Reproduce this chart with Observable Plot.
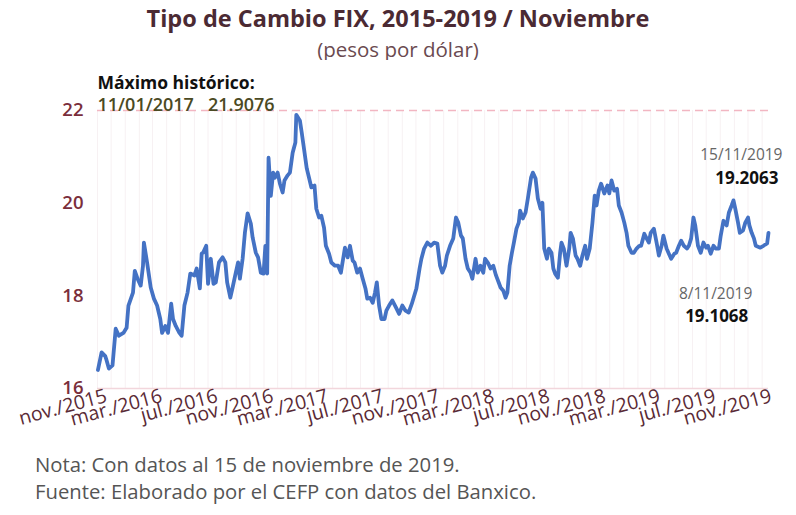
<!DOCTYPE html>
<html>
<head>
<meta charset="utf-8">
<script src="https://cdn.jsdelivr.net/npm/d3@7"></script>
<script src="https://cdn.jsdelivr.net/npm/@observablehq/plot@0.6"></script>
<style>
  body { margin:0; width:796px; height:515px; background:#fff; font-family:"Open Sans", sans-serif; position:relative; overflow:hidden; }
  #title { position:absolute; left:0; width:796px; top:5px; text-align:center; font-size:23.5px; font-weight:700; color:#4b2a33; line-height:27px; }
  #subtitle { position:absolute; left:0; width:796px; top:37px; text-align:center; font-size:20.5px; color:#6a4a50; line-height:24px; }
  #chart { position:absolute; left:0; top:60px; }
  #notes { position:absolute; left:35px; top:451px; font-size:20.3px; color:#555; line-height:27px; }
</style>
</head>
<body>
<div id="title">Tipo de Cambio FIX, 2015-2019 / Noviembre</div>
<div id="subtitle">(pesos por dólar)</div>
<div id="chart"></div>
<div id="notes">Nota: Con datos al 15 de noviembre de 2019.<br>Fuente: Elaborado por el CEFP con datos del Banxico.</div>
<script>
const dates = [
"2015-11-02","2015-11-10","2015-11-18","2015-11-20","2015-11-26","2015-12-04","2015-12-11","2015-12-18","2015-12-28",
"2016-01-04","2016-01-08","2016-01-18","2016-01-22","2016-01-28","2016-02-04","2016-02-09","2016-02-11","2016-02-18","2016-02-26",
"2016-03-04","2016-03-11","2016-03-18","2016-03-22","2016-03-29","2016-04-04","2016-04-11","2016-04-15","2016-04-21","2016-04-29",
"2016-05-04","2016-05-10","2016-05-17","2016-05-23","2016-06-01","2016-06-06","2016-06-13","2016-06-17","2016-06-20","2016-06-27",
"2016-07-01","2016-07-07","2016-07-13","2016-07-18","2016-07-25","2016-08-02","2016-08-08","2016-08-12","2016-08-19","2016-08-24",
"2016-08-31","2016-09-05","2016-09-09","2016-09-15","2016-09-20","2016-09-26","2016-10-03","2016-10-07","2016-10-14","2016-10-19",
"2016-10-25","2016-10-31","2016-11-04","2016-11-08","2016-11-11","2016-11-16","2016-11-21","2016-11-25","2016-12-01","2016-12-06",
"2016-12-12","2016-12-16","2016-12-23","2016-12-28","2017-01-03","2017-01-09","2017-01-11","2017-01-19","2017-01-23","2017-01-27",
"2017-02-03","2017-02-08","2017-02-13","2017-02-20","2017-02-24","2017-03-02","2017-03-07","2017-03-13","2017-03-17","2017-03-24",
"2017-03-29","2017-04-06","2017-04-13","2017-04-19","2017-04-24","2017-04-28","2017-05-04","2017-05-09","2017-05-15","2017-05-19",
"2017-05-25","2017-05-31","2017-06-06","2017-06-12","2017-06-16","2017-06-22","2017-06-28","2017-07-03","2017-07-07","2017-07-12",
"2017-07-17","2017-07-24","2017-07-28","2017-08-03","2017-08-10","2017-08-18","2017-08-25","2017-09-01","2017-09-08","2017-09-15",
"2017-09-22","2017-10-02","2017-10-09","2017-10-13","2017-10-19","2017-10-26","2017-11-03","2017-11-10","2017-11-17","2017-11-23",
"2017-11-28","2017-12-04","2017-12-08","2017-12-15","2017-12-22","2017-12-28","2018-01-02","2018-01-08","2018-01-12","2018-01-18",
"2018-01-23","2018-01-29","2018-02-02","2018-02-09","2018-02-14","2018-02-20","2018-02-26","2018-03-02","2018-03-09","2018-03-14",
"2018-03-20","2018-03-26","2018-04-02","2018-04-05","2018-04-11","2018-04-16","2018-04-20","2018-04-25","2018-04-30","2018-05-04",
"2018-05-10","2018-05-15","2018-05-18","2018-05-24","2018-05-30","2018-06-04","2018-06-11","2018-06-15","2018-06-21","2018-06-26",
"2018-07-02","2018-07-06","2018-07-10","2018-07-16","2018-07-20","2018-07-26","2018-07-30","2018-08-03","2018-08-09","2018-08-14",
"2018-08-17","2018-08-22","2018-08-28","2018-09-03","2018-09-06","2018-09-11","2018-09-17","2018-09-21","2018-09-27","2018-10-02",
"2018-10-08","2018-10-12","2018-10-18","2018-10-24","2018-10-29","2018-11-02","2018-11-07","2018-11-12","2018-11-19","2018-11-26",
"2018-11-30","2018-12-05","2018-12-11","2018-12-17","2018-12-21","2018-12-27","2019-01-02","2019-01-07","2019-01-11","2019-01-18",
"2019-01-23","2019-01-29","2019-02-04","2019-02-08","2019-02-15","2019-02-20","2019-02-25","2019-03-01","2019-03-08","2019-03-14",
"2019-03-19","2019-03-25","2019-03-29","2019-04-05","2019-04-10","2019-04-15","2019-04-22","2019-04-26","2019-05-02","2019-05-07",
"2019-05-13","2019-05-20","2019-05-24","2019-05-29","2019-06-03","2019-06-07","2019-06-13","2019-06-19","2019-06-25","2019-07-01",
"2019-07-05","2019-07-11","2019-07-17","2019-07-22","2019-07-29","2019-08-02","2019-08-08","2019-08-15","2019-08-20","2019-08-26",
"2019-08-30","2019-09-03","2019-09-09","2019-09-13","2019-09-20","2019-09-25","2019-10-01","2019-10-04","2019-10-09","2019-10-14",
"2019-10-18","2019-10-28","2019-11-04","2019-11-08","2019-11-12","2019-11-15"
];
const values = [
16.40,16.78,16.70,16.64,16.43,16.50,17.29,17.14,17.20,
17.31,17.79,18.07,18.54,18.37,18.22,18.65,19.15,18.72,18.18,
17.94,17.79,17.50,17.20,17.35,17.20,17.83,17.50,17.35,17.20,
17.14,17.79,18.07,18.48,18.44,18.59,18.16,18.91,18.93,19.08,
18.26,18.80,18.26,18.29,18.72,18.83,18.72,18.29,17.96,18.18,
18.50,18.72,18.37,18.80,19.36,19.78,19.56,19.26,18.93,18.83,
18.50,18.48,19.08,18.48,20.98,20.16,20.66,20.55,20.66,20.42,
20.23,20.49,20.60,20.66,21.09,21.31,21.9076,21.78,21.52,21.24,
20.75,20.55,20.34,20.38,19.88,19.69,19.73,19.47,19.08,18.91,
18.72,18.65,18.65,18.50,18.80,19.04,18.83,19.08,18.76,18.72,
18.50,18.59,18.37,18.16,17.94,17.96,17.85,18.07,18.29,17.79,
17.50,17.50,17.68,17.79,17.90,17.75,17.61,17.79,17.68,17.64,
17.83,18.16,18.59,18.80,19.02,19.15,19.08,19.15,19.13,18.65,
18.50,18.65,18.87,19.08,19.24,19.69,19.58,19.30,19.24,18.80,
18.59,18.50,18.37,18.80,18.50,18.65,18.50,18.80,18.70,18.59,
18.65,18.44,18.26,18.18,18.11,17.96,18.07,18.65,18.93,19.13,
19.45,19.58,19.84,19.67,19.80,20.10,20.55,20.66,20.53,20.10,
19.88,20.01,19.02,18.80,19.02,18.93,18.59,18.48,18.39,18.93,
19.15,19.02,18.65,19.02,19.36,19.24,18.87,18.80,18.65,18.87,
19.08,18.80,19.02,19.58,20.16,19.95,20.27,20.42,20.21,20.38,
20.21,20.49,20.27,20.31,19.95,19.80,19.58,19.36,19.08,18.93,
18.93,19.02,19.08,19.08,19.34,19.24,19.15,19.36,19.45,19.15,
18.87,19.08,19.30,19.02,18.91,18.80,18.91,18.93,19.08,19.19,
19.08,19.02,19.08,19.24,19.69,19.52,19.08,18.93,19.15,19.04,
19.08,18.91,19.08,19.02,19.02,19.30,19.62,19.52,19.80,19.95,
20.06,19.88,19.58,19.36,19.41,19.58,19.69,19.52,19.36,19.24,
19.08,19.04,19.08,19.1068,19.13,19.36
];
const yTicks = [16, 18, 20, 22];
const tickDates = ["2015-11-01","2016-03-01","2016-07-01","2016-11-01","2017-03-01","2017-07-01","2017-11-01","2018-03-01","2018-07-01","2018-11-01","2019-03-01","2019-07-01","2019-11-01"];
const tickLabels = ["nov./2015","mar./2016","jul./2016","nov./2016","mar./2017","jul./2017","nov./2017","mar./2018","jul./2018","nov./2018","mar./2019","jul./2019","nov./2019"];
const maxDate = "2017-01-11", maxValue = 21.9076;
const lastDate = "2019-11-15", lastValue = 19.2063;
const prevDate = "2019-11-08", prevValue = 19.1068;

const data = dates.map((d, i) => ({date: new Date(d), value: values[i]}));
const ticks = tickDates.map(d => new Date(d));
const labelOf = new Map(ticks.map((t, i) => [+t, tickLabels[i]]));
const x0 = new Date("2015-11-01"), x1 = new Date(lastDate);
const gridMonths = d3.utcMonth.range(x0, x1);

const chart = Plot.plot({
  width: 796,
  height: 385,
  marginLeft: 97,
  marginRight: 28,
  marginTop: 50,
  marginBottom: 57,
  style: {fontFamily: "'Open Sans', sans-serif", background: "#fff"},
  x: {type: "utc", domain: [x0, x1]},
  y: {domain: [16, 22]},
  marks: [
    Plot.ruleX(gridMonths, {y1: 16, y2: 22, stroke: "#f7f1f3", strokeWidth: 1}),
    Plot.ruleY([16], {stroke: "#f2d6dc", strokeWidth: 1.5}),
    Plot.ruleY([22], {stroke: "#f2b6c2", strokeWidth: 1.5, strokeDasharray: "8,5"}),
    Plot.axisY({ticks: yTicks, tickFormat: "d", tickSize: 0, tickPadding: 14, fontSize: 18.5, fontWeight: 600, fill: "#7a2e3b", label: null}),
    Plot.axisX({ticks, tickSize: 0, tickPadding: 7, tickRotate: -15, fontSize: 19.5, fill: "#5a2a35", label: null, dx: 9, tickFormat: d => labelOf.get(+d)}),
    Plot.line(data, {x: "date", y: "value", stroke: "#4472c4", strokeWidth: 3.8, strokeLinejoin: "round"}),
    Plot.text(["Máximo histórico:"], {frameAnchor: "top-left", dy: -34, textAnchor: "start", fontSize: 17.5, fontWeight: 700, fill: "#111"}),
    Plot.text([`${d3.utcFormat("%d/%m/%Y")(new Date(maxDate))}\u00a0\u00a0 ${maxValue.toFixed(4)}`], {frameAnchor: "top-left", dy: -12, textAnchor: "start", fontSize: 18, fontWeight: 600, fill: "#4b4a23"}),
    Plot.text([{date: new Date(lastDate), value: lastValue}], {x: "date", y: "value", text: () => "15/11/2019", dx: 14, dy: -85, textAnchor: "end", fontSize: 15.5, fill: "#666"}),
    Plot.text([{date: new Date(lastDate), value: lastValue}], {x: "date", y: "value", text: d => d.value.toFixed(4), dx: 10, dy: -61, textAnchor: "end", fontSize: 17, fontWeight: 700, fill: "#111"}),
    Plot.text([{date: new Date(prevDate), value: prevValue}], {x: "date", y: "value", text: () => "8/11/2019", dx: -13, dy: 49, textAnchor: "end", fontSize: 15.5, fill: "#666"}),
    Plot.text([{date: new Date(prevDate), value: prevValue}], {x: "date", y: "value", text: d => d.value.toFixed(4), dx: -17, dy: 72, textAnchor: "end", fontSize: 17, fontWeight: 700, fill: "#111"})
  ]
});
document.getElementById("chart").appendChild(chart);
</script>
</body>
</html>
